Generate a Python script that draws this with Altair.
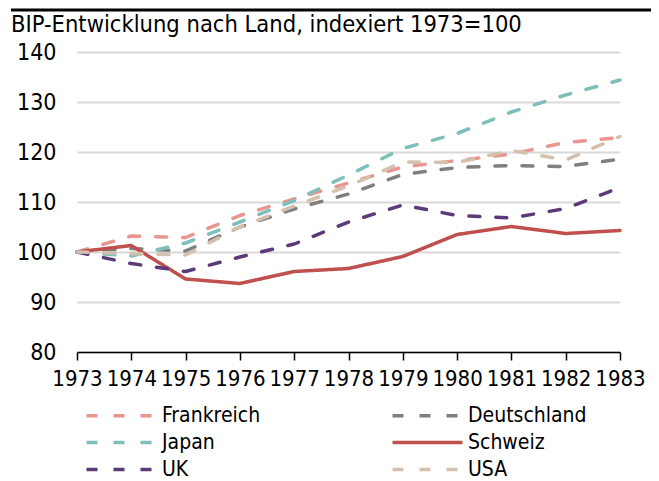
import altair as alt
import pandas as pd

title_text = "BIP-Entwicklung nach Land, indexiert 1973=100"
years = [1973, 1974, 1975, 1976, 1977, 1978, 1979, 1980, 1981, 1982, 1983]
series_names = ["Frankreich", "Deutschland", "Japan", "Schweiz", "UK", "USA"]
frankreich = [100, 103.2, 102.9, 107.3, 110.6, 113.8, 117.0, 118.3, 119.6, 121.9, 122.9]
deutschland = [100, 100.7, 100.2, 105.0, 108.6, 111.6, 115.5, 116.9, 117.3, 117.1, 118.6]
japan = [100, 99.2, 101.8, 106.0, 110.3, 115.4, 120.7, 123.7, 128.0, 131.4, 134.4]
schweiz = [100, 101.3, 94.6, 93.7, 96.1, 96.7, 99.1, 103.5, 105.1, 103.7, 104.3]
uk = [100, 97.7, 96.1, 99.0, 101.6, 106.0, 109.4, 107.3, 106.8, 108.7, 112.9]
usa = [100, 99.7, 99.4, 105.0, 109.2, 113.2, 118.0, 117.9, 120.3, 118.4, 123.1]
colors = ["#e8968f", "#7f7f7f", "#7fbfb9", "#c0504d", "#5b3b77", "#d3c0ad"]
dashes = [[11, 16], [11, 16], [11, 16], [1, 0], [11, 16], [11, 16]]
y_ticks = [80, 90, 100, 110, 120, 130, 140]

values = [frankreich, deutschland, japan, schweiz, uk, usa]
rows = []
for name, vals in zip(series_names, values):
    for yr, v in zip(years, vals):
        rows.append({"Jahr": yr, "Index": v, "Land": name})
df = pd.DataFrame(rows)

FONT = "'DejaVu Sans Condensed', 'Open Sans', sans-serif"

W, H = 543, 300

# long horizontal legend line drawn from a small symbol (keeps rows compact)
legend_symbol = "M-1,0H9"
legend_kw = dict(title=None, orient="none", legendX=6, legendY=353,
                 direction="horizontal", columns=2, columnPadding=124, rowPadding=5,
                 symbolType=legend_symbol, symbolSize=196, symbolStrokeWidth=3.5,
                 labelFontSize=21, labelFont=FONT, labelColor="black",
                 labelOffset=58, labelLimit=300)

lines = alt.Chart(df).mark_line(strokeWidth=3.5, strokeCap="round", strokeJoin="round").encode(
    x=alt.X("Jahr:Q", scale=alt.Scale(domain=[1973, 1983], nice=False, zero=False),
            axis=alt.Axis(values=years, format="d", title=None, grid=False,
                          domainColor="black", domainWidth=1.5, tickColor="black",
                          tickWidth=1.5, tickSize=8, labelPadding=8,
                          labelFontSize=22, labelColor="black", labelFont=FONT,
                          labelOverlap=False, labelFlush=False)),
    y=alt.Y("Index:Q", scale=alt.Scale(domain=[80, 140], nice=False, zero=False),
            axis=alt.Axis(values=y_ticks, title=None, domain=False, ticks=False,
                          grid=True, gridColor="#d9d9d9", gridWidth=2,
                          labelPadding=21, labelFontSize=23, labelColor="black",
                          labelFont=FONT)),
    color=alt.Color("Land:N", scale=alt.Scale(domain=series_names, range=colors),
                    legend=alt.Legend(**legend_kw)),
    strokeDash=alt.StrokeDash("Land:N", scale=alt.Scale(domain=series_names, range=dashes),
                              legend=alt.Legend(**legend_kw)),
    order=alt.Order("Land:N"),
)

topline = alt.Chart(pd.DataFrame({"a": [0]})).mark_rule(color="black", strokeWidth=3).encode(
    x=alt.value(-66), x2=alt.value(W + 31), y=alt.value(-42)
)

title = alt.Chart(pd.DataFrame({"t": [title_text]})).mark_text(
    align="left", baseline="middle", fontSize=23.5, font=FONT, color="black"
).encode(text="t:N", x=alt.value(-66), y=alt.value(-27))

chart = alt.layer(topline, title, lines).properties(
    width=W, height=H,
    padding={"left": 69, "top": 44, "right": 31, "bottom": 129},
    autosize=alt.AutoSizeParams(type="none"),
).configure_view(stroke=None)

chart.save("out.html", embed_options={"renderer": "svg", "actions": False})
